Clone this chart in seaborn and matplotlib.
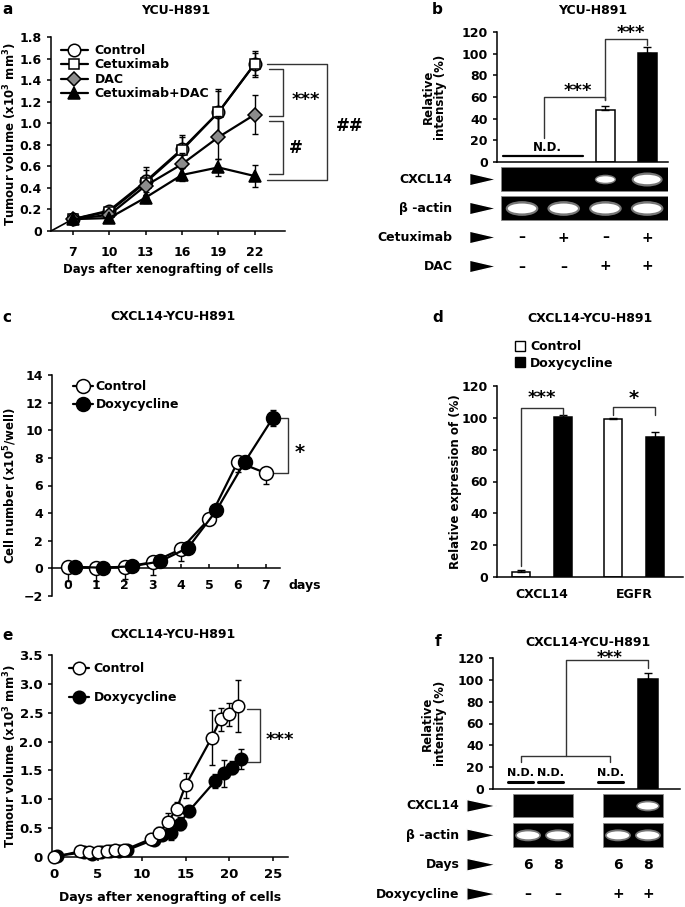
import numpy as np
import pandas as pd
import matplotlib
matplotlib.use("Agg")
import matplotlib.pyplot as plt
import matplotlib.transforms as mtransforms
from matplotlib.patches import Rectangle, Ellipse, Polygon, Patch
import seaborn as sns

# ---------------- data ----------------
# a: tumour volume, YCU-H891
days_a = [7, 10, 13, 16, 19, 22]
control_a = [0.11, 0.19, 0.46, 0.76, 1.10, 1.55]
cetux_a = [0.11, 0.18, 0.45, 0.75, 1.10, 1.55]
dac_a = [0.11, 0.15, 0.42, 0.62, 0.87, 1.08]
combo_a = [0.11, 0.12, 0.31, 0.52, 0.59, 0.51]
control_a_err = [0.02, 0.03, 0.13, 0.13, 0.22, 0.12]
cetux_a_err = [0.02, 0.03, 0.12, 0.12, 0.20, 0.10]
dac_a_err = [0.02, 0.03, 0.10, 0.10, 0.20, 0.18]
combo_a_err = [0.02, 0.02, 0.05, 0.06, 0.08, 0.10]

# b: CXCL14 RT-PCR, YCU-H891
lanes_b = [0, 1, 2, 3]
cetux_b = ["–", "+", "–", "+"]
dac_b = ["–", "–", "+", "+"]
intensity_b = [np.nan, np.nan, 48, 101]
intensity_b_err = [np.nan, np.nan, 4, 5]
cxcl14_band_b = [0, 0, 0.65, 0.95]
actin_band_b = [1, 1, 1, 1]

# c: cell number
days_c = [0, 1, 2, 3, 4, 5, 6, 7]
control_c = [0.1, 0.05, 0.1, 0.45, 1.4, 3.6, 7.7, 6.9]
doxy_c = [0.1, 0.05, 0.15, 0.5, 1.5, 4.2, 7.7, 10.9]
control_c_err = [1.0, 1.0, 0.9, 0.9, 0.85, 0.3, 0.7, 0.8]
doxy_c_err = [0.1, 0.1, 0.1, 0.1, 0.2, 0.2, 0.3, 0.6]

# d: relative expression
genes_d = ["CXCL14", "EGFR"]
treat_d = ["Control", "Doxycycline"]
expr_control_d = [3, 99.5]
expr_doxy_d = [100.5, 88]
expr_control_d_err = [1.5, 0.7]
expr_doxy_d_err = [1.5, 3.0]

# e: tumour volume, CXCL14-YCU-H891
days_e = [0, 3, 4, 5, 6, 7, 8, 11, 12, 13, 14, 15, 18, 19, 20, 21]
control_e = [0.0, 0.10, 0.08, 0.08, 0.10, 0.12, 0.12, 0.31, 0.42, 0.61, 0.84, 1.24, 2.07, 2.39, 2.47, 2.62]
doxy_e = [0.02, 0.08, 0.06, 0.08, 0.10, 0.10, 0.12, 0.30, 0.38, 0.42, 0.58, 0.79, 1.31, 1.45, 1.55, 1.70]
control_e_err = [0, 0.03, 0.03, 0.03, 0.03, 0.04, 0.04, 0.05, 0.10, 0.15, 0.12, 0.22, 0.48, 0.20, 0.20, 0.45]
doxy_e_err = [0, 0.02, 0.02, 0.02, 0.02, 0.03, 0.03, 0.05, 0.08, 0.13, 0.12, 0.10, 0.12, 0.23, 0.12, 0.17]

# f: CXCL14 RT-PCR after doxycycline
lanes_f = [0, 1, 3, 4]
days_f = ["6", "8", "6", "8"]
doxy_f = ["–", "–", "+", "+"]
intensity_f = [np.nan, np.nan, np.nan, 101]
intensity_f_err = [np.nan, np.nan, np.nan, 5]
cxcl14_band_f = [0, 0, 0, 0.9]
actin_band_f = [1, 1, 1, 1]
gel_groups_f = [[0, 1], [3, 4]]

# ---------------- style ----------------
sns.set_style("ticks")
plt.rcParams["font.family"] = ["DejaVu Sans"]
plt.rcParams["font.weight"] = "bold"
plt.rcParams["axes.labelweight"] = "bold"
plt.rcParams["font.size"] = 9
plt.rcParams["axes.linewidth"] = 1.1
plt.rcParams["axes.edgecolor"] = "black"
plt.rcParams["text.color"] = "black"
plt.rcParams["axes.labelcolor"] = "black"
plt.rcParams["xtick.color"] = "black"
plt.rcParams["ytick.color"] = "black"
plt.rcParams["xtick.major.width"] = 1.1
plt.rcParams["ytick.major.width"] = 1.1
plt.rcParams["xtick.major.size"] = 3
plt.rcParams["ytick.major.size"] = 3
plt.rcParams["mathtext.fontset"] = "custom"
plt.rcParams["mathtext.rm"] = "DejaVu Sans:bold"
plt.rcParams["mathtext.default"] = "rm"

W, H = 685, 907
fig = plt.figure(figsize=(W / 100, H / 100), dpi=100)
TICK = 9
LAB = 8.5


def add_ax(l, t, r, b):
    return fig.add_axes([l / W, 1 - b / H, (r - l) / W, (b - t) / H])


def ftext(x, y, s, **kw):
    kw.setdefault("va", "center")
    kw.setdefault("ha", "center")
    fig.text(x / W, 1 - y / H, s, **kw)


def stars(ax, x, y, s, size=13, **kw):
    # y is where the asterisks should visually sit (they ride high in the glyph box)
    off = mtransforms.ScaledTranslation(0, -0.59 * size / 72, fig.dpi_scale_trans)
    ax.text(x, y, s, ha="center", va="baseline", fontsize=size,
            transform=ax.transData + off, clip_on=False, **kw)


def series(ax, x, y, err, marker, face, ms, label=None, lower_only=False, z=3):
    err = np.asarray(err)
    yerr = [err, np.zeros_like(err)] if lower_only else err
    ax.errorbar(x, y, yerr=yerr, fmt="none", ecolor="black", elinewidth=1,
                capsize=2.5, capthick=1, zorder=z - 0.5, clip_on=False)
    sns.lineplot(x=x, y=y, ax=ax, color="black", lw=1.6, marker=marker, ms=ms,
                 mfc=face, mec="black", mew=1.1, label=label, zorder=z,
                 clip_on=False, legend=False)


def bracket(ax, x0, x1, top, y0, y1):
    ax.plot([x0, x0, x1, x1], [y0, top, top, y1], color="#333333", lw=1,
            clip_on=False)


def side_bracket(ax, x0, x1, ytop, ybot):
    ax.plot([x0, x1, x1, x0], [ytop, ytop, ybot, ybot], color="#333333",
            lw=1, clip_on=False)


def gel(ax, lanes, groups, cxcl14, actin, band_w, band_h, label_x, arrow_x,
        row_labels, row_values):
    for grp in groups:
        x0 = min(grp) - 0.5
        x1 = max(grp) + 0.5
        for row in (0, 1):
            ax.add_patch(Rectangle((x0, row - 0.42), x1 - x0, 0.8,
                                   facecolor="black", edgecolor="#888888", lw=0.6))
    for lane, c, a in zip(lanes, cxcl14, actin):
        for row, s in ((0, c), (1, a)):
            if s > 0:
                ax.add_patch(Ellipse((lane, row), band_w * s * 1.15, band_h * s * 1.5,
                                     facecolor="#777777", edgecolor="none"))
                ax.add_patch(Ellipse((lane, row), band_w * s, band_h * s,
                                     facecolor="white", edgecolor="none"))
    tr = mtransforms.blended_transform_factory(ax.transAxes, ax.transData)
    for row, lab in enumerate(row_labels):
        ax.text(label_x, row, lab, transform=tr, ha="right", va="center",
                fontsize=9, fontweight="bold")
        ax.add_patch(Polygon([(arrow_x[0], row - 0.22), (arrow_x[1], row),
                              (arrow_x[0], row + 0.22)], closed=True,
                             transform=tr, facecolor="black", clip_on=False))
    for row, vals in enumerate(row_values, start=2):
        for lane, v in zip(lanes, vals):
            ax.text(lane, row, v, ha="center", va="center", fontsize=10,
                    fontweight="bold")
    ax.set_axis_off()


# ================= a =================
ax = add_ax(51, 37, 285, 231)
ax.set_xlim(5.2, 24.5)
ax.set_ylim(0, 1.8)
ax.plot([5.2, days_a[0]], [0, control_a[0]], color="black", lw=1.2, zorder=2)
series(ax, days_a, control_a, control_a_err, "o", "white", 9, "Control", z=3)
series(ax, days_a, cetux_a, cetux_a_err, "s", "white", 7.5, "Cetuximab", z=4)
series(ax, days_a, dac_a, dac_a_err, "D", "#8c8c8c", 7, "DAC", z=5)
series(ax, days_a, combo_a, combo_a_err, "^", "black", 8.5, "Cetuximab+DAC", z=6)
ax.set_xticks(days_a)
ax.set_yticks(np.arange(0, 1.81, 0.2))
ax.set_yticklabels(["0"] + [f"{v:.1f}" for v in np.arange(0.2, 1.81, 0.2)])
ax.tick_params(axis="x", pad=8, labelsize=TICK)
ax.tick_params(axis="y", labelsize=TICK)
sns.despine(ax=ax)
ax.set_xlabel("Days after xenografting of cells", fontsize=LAB, labelpad=3)
ax.set_ylabel("Tumour volume (x10$^{3}$ mm$^{3}$)", fontsize=LAB)
ax.yaxis.set_label_coords(-0.135, 0.5)
ax.legend(loc="upper left", bbox_to_anchor=(0.02, 0.99), frameon=False,
          handlelength=2.2, handletextpad=0.5, labelspacing=0.12,
          borderaxespad=0, prop={"weight": "bold", "size": 9})
side_bracket(ax, 23.2, 24.3, 1.50, 1.07)
side_bracket(ax, 23.2, 24.3, 1.02, 0.53)
side_bracket(ax, 23.0, 28.0, 1.55, 0.47)
stars(ax, 26.2, 1.27, "***")
ax.text(25.4, 0.77, "#", ha="center", va="center", fontsize=12, clip_on=False)
ax.text(29.8, 0.97, "##", ha="center", va="center", fontsize=12, clip_on=False)
ftext(176, 10, "YCU-H891", fontsize=9, fontweight="bold")
ftext(2, 10, "a", ha="left", fontsize=11, fontweight="bold")

# ================= b =================
ax = add_ax(497, 32, 668, 162)
mask = ~np.isnan(intensity_b)
sns.barplot(x=np.array(lanes_b)[mask], y=np.array(intensity_b)[mask],
            hue=np.array(cetux_b)[mask], palette={"–": "white", "+": "black"},
            native_scale=True, dodge=False, width=0.45, edgecolor="black",
            linewidth=1.1, errorbar=None, legend=False, ax=ax)
ax.errorbar(np.array(lanes_b)[mask], np.array(intensity_b)[mask],
            yerr=[np.zeros(mask.sum()), np.array(intensity_b_err)[mask]],
            fmt="none", ecolor="black", elinewidth=1, capsize=3, capthick=1)
ax.set_xlim(-0.6, 3.5)
ax.set_ylim(0, 120)
ax.set_yticks(range(0, 121, 20))
ax.tick_params(axis="x", bottom=False, labelbottom=False)
ax.tick_params(axis="y", labelsize=TICK)
sns.despine(ax=ax)
nd_b = [l for l, v in zip(lanes_b, intensity_b) if np.isnan(v)]
nd_mid = np.mean(nd_b)
ax.plot([nd_mid - 0.95, nd_mid + 0.95], [6, 6], color="black", lw=1.6)
ax.text(nd_mid + 0.1, 13, "N.D.", ha="center", va="center", fontsize=8.5)
bracket(ax, nd_mid + 0.03, lanes_b[2], 60, 22, 57)
bracket(ax, lanes_b[2], lanes_b[3], 114, 57, 108)
stars(ax, 1.35, 71, "***")
stars(ax, 2.6, 124, "***")
ax.set_ylabel("Relative\nintensity (%)", fontsize=LAB, linespacing=1.0)
ax.yaxis.set_label_coords(-0.29, 0.5)
ftext(593, 10, "YCU-H891", fontsize=9, fontweight="bold")
ftext(437, 10, "b", fontsize=11, fontweight="bold")

axg = add_ax(497, 165, 668, 281)
axg.set_xlim(-0.6, 3.5)
axg.set_ylim(3.5, -0.5)
gel(axg, lanes_b, [lanes_b], cxcl14_band_b, actin_band_b, 0.68, 0.34,
    -0.26, (-0.16, 0.0), ["CXCL14", "β -actin", "Cetuximab", "DAC"],
    [cetux_b, dac_b])

# ================= c =================
ax = add_ax(52, 375, 280, 596)
ax.set_xlim(-0.57, 7.5)
ax.set_ylim(-2, 14)
series(ax, days_c, control_c, control_c_err, "o", "white", 10, "Control",
       lower_only=True, z=3)
series(ax, np.array(days_c) + 0.25, doxy_c, doxy_c_err, "o", "black", 10,
       "Doxycycline", z=4)
ax.spines["bottom"].set_position(("data", 0))
sns.despine(ax=ax)
ax.set_xticks(days_c)
ax.set_yticks(range(-2, 15, 2))
ax.tick_params(axis="x", direction="in", pad=8, labelsize=TICK)
ax.tick_params(axis="y", labelsize=TICK)
ax.set_ylabel("Cell number (x10$^{5}$/well)", fontsize=LAB)
ax.yaxis.set_label_coords(-0.143, 0.5)
ax.legend(loc="upper left", bbox_to_anchor=(0.07, 1.0), frameon=False,
          handlelength=1.6, handletextpad=0.2, labelspacing=0.4,
          borderaxespad=0, prop={"weight": "bold", "size": 9})
side_bracket(ax, 7.3, 7.8, 10.9, 6.9)
stars(ax, 8.2, 8.8, "*", size=14)
ftext(305, 586, "days", fontsize=9, fontweight="bold")
ftext(173, 317, "CXCL14-YCU-H891", fontsize=9, fontweight="bold")
ftext(2, 317, "c", ha="left", fontsize=11, fontweight="bold")

# ================= d =================
ax = add_ax(497, 386, 683, 577)
df_d = pd.DataFrame({
    "gene": genes_d * 2,
    "treatment": [treat_d[0]] * 2 + [treat_d[1]] * 2,
    "value": expr_control_d + expr_doxy_d,
    "err": expr_control_d_err + expr_doxy_d_err,
})
sns.barplot(data=df_d, x="gene", y="value", hue="treatment", order=genes_d,
            hue_order=treat_d, palette={"Control": "white", "Doxycycline": "black"},
            width=0.92, gap=0.57, edgecolor="black", linewidth=1.1,
            errorbar=None, legend=False, ax=ax)
centers = {}
for cont, t in zip(ax.containers, treat_d):
    sub = df_d[df_d.treatment == t].set_index("gene").loc[genes_d]
    xs = [p.get_x() + p.get_width() / 2 for p in cont.patches]
    centers[t] = xs
    ax.errorbar(xs, sub["value"], yerr=[np.zeros(len(xs)), sub["err"]],
                fmt="none", ecolor="black", elinewidth=1, capsize=3, capthick=1)
ax.set_xlim(-0.49, 1.53)
ax.set_ylim(0, 120)
ax.set_yticks(range(0, 121, 20))
ax.tick_params(axis="x", length=0, pad=8, labelsize=TICK)
ax.tick_params(axis="y", labelsize=TICK)
ax.set_xlabel("")
ax.set_ylabel("Relative expression of (%)", fontsize=LAB)
ax.yaxis.set_label_coords(-0.19, 0.5)
sns.despine(ax=ax)
bracket(ax, centers["Control"][0], centers["Doxycycline"][0], 106, 7, 102)
bracket(ax, centers["Control"][1], centers["Doxycycline"][1], 107, 102, 102)
stars(ax, 0, 116, "***")
stars(ax, 1, 116, "*", size=14)
ax.legend(handles=[Patch(facecolor="white", edgecolor="black"),
                   Patch(facecolor="black", edgecolor="black")],
          labels=treat_d, loc="upper left", bbox_to_anchor=(0.07, 1.265),
          frameon=False, handlelength=0.8, handleheight=0.8,
          handletextpad=0.4, labelspacing=0.25, borderaxespad=0,
          prop={"weight": "bold", "size": 9})
ftext(590, 318, "CXCL14-YCU-H891", fontsize=9, fontweight="bold")
ftext(438, 318, "d", fontsize=11, fontweight="bold")

# ================= e =================
ax = add_ax(52, 655, 288, 857)
ax.set_xlim(-0.25, 26.7)
ax.set_ylim(0, 3.5)
series(ax, np.array(days_e) + 0.35, doxy_e, doxy_e_err, "o", "black", 9,
       "Doxycycline", z=3)
series(ax, days_e, control_e, control_e_err, "o", "white", 9, "Control", z=4)
sns.despine(ax=ax)
ax.set_xticks(range(0, 26, 5))
ax.set_yticks(np.arange(0, 3.51, 0.5))
ax.set_yticklabels(["0"] + [f"{v:.1f}" for v in np.arange(0.5, 3.51, 0.5)])
ax.tick_params(axis="x", pad=5, labelsize=9.5)
ax.tick_params(axis="y", labelsize=9.5)
ax.set_xlabel("Days after xenografting of cells", fontsize=9, labelpad=7)
ax.set_ylabel("Tumour volume (x10$^{3}$ mm$^{3}$)", fontsize=LAB)
ax.yaxis.set_label_coords(-0.138, 0.5)
h, l = ax.get_legend_handles_labels()
order = [l.index("Control"), l.index("Doxycycline")]
ax.legend([h[i] for i in order], [l[i] for i in order], loc="upper left",
          bbox_to_anchor=(0.05, 0.99), frameon=False, handlelength=1.6,
          handletextpad=0.4, labelspacing=1.3, borderaxespad=0,
          prop={"weight": "bold", "size": 9})
side_bracket(ax, 22.0, 23.5, 2.56, 1.65)
stars(ax, 25.8, 2.13, "***")
ftext(173, 635, "CXCL14-YCU-H891", fontsize=9, fontweight="bold")
ftext(2, 635, "e", ha="left", fontsize=11, fontweight="bold")

# ================= f =================
ax = add_ax(493, 658, 680, 789)
mask = ~np.isnan(intensity_f)
sns.barplot(x=np.array(lanes_f)[mask], y=np.array(intensity_f)[mask],
            color="black", native_scale=True, width=0.65, edgecolor="black",
            linewidth=1.1, errorbar=None, ax=ax)
ax.errorbar(np.array(lanes_f)[mask], np.array(intensity_f)[mask],
            yerr=[np.zeros(mask.sum()), np.array(intensity_f_err)[mask]],
            fmt="none", ecolor="black", elinewidth=1, capsize=3, capthick=1)
ax.set_xlim(-1.17, 5.07)
ax.set_ylim(0, 120)
ax.set_yticks(range(0, 121, 20))
ax.tick_params(axis="x", bottom=False, labelbottom=False)
ax.tick_params(axis="y", labelsize=TICK)
sns.despine(ax=ax)
nd_f = [l - 0.25 for l, v in zip(lanes_f, intensity_f) if np.isnan(v)]
for x in nd_f:
    ax.plot([x - 0.43, x + 0.43], [6.5, 6.5], color="black", lw=2.2)
    ax.text(x, 15, "N.D.", ha="center", va="center", fontsize=8)
bracket(ax, nd_f[0], nd_f[-1], 30, 25, 25)
nd_center = (nd_f[0] + nd_f[-1]) / 2
bracket(ax, nd_center, lanes_f[-1], 118, 30, 111)
stars(ax, (nd_center + lanes_f[-1]) / 2 + 0.1, 124.5, "***", size=12)
ax.set_ylabel("Relative\nintensity (%)", fontsize=LAB, linespacing=1.0)
ax.yaxis.set_label_coords(-0.245, 0.5)
ftext(588, 642, "CXCL14-YCU-H891", fontsize=9, fontweight="bold")
ftext(438, 642, "f", fontsize=11, fontweight="bold")

axg = add_ax(493, 791, 680, 907)
axg.set_xlim(-1.17, 5.07)
axg.set_ylim(3.44, -0.51)
gel(axg, lanes_f, gel_groups_f, cxcl14_band_f, actin_band_f, 0.75, 0.27,
    -0.18, (-0.14, 0.02), ["CXCL14", "β -actin", "Days", "Doxycycline"],
    [days_f, doxy_f])

fig.savefig("out.png", dpi=100)
